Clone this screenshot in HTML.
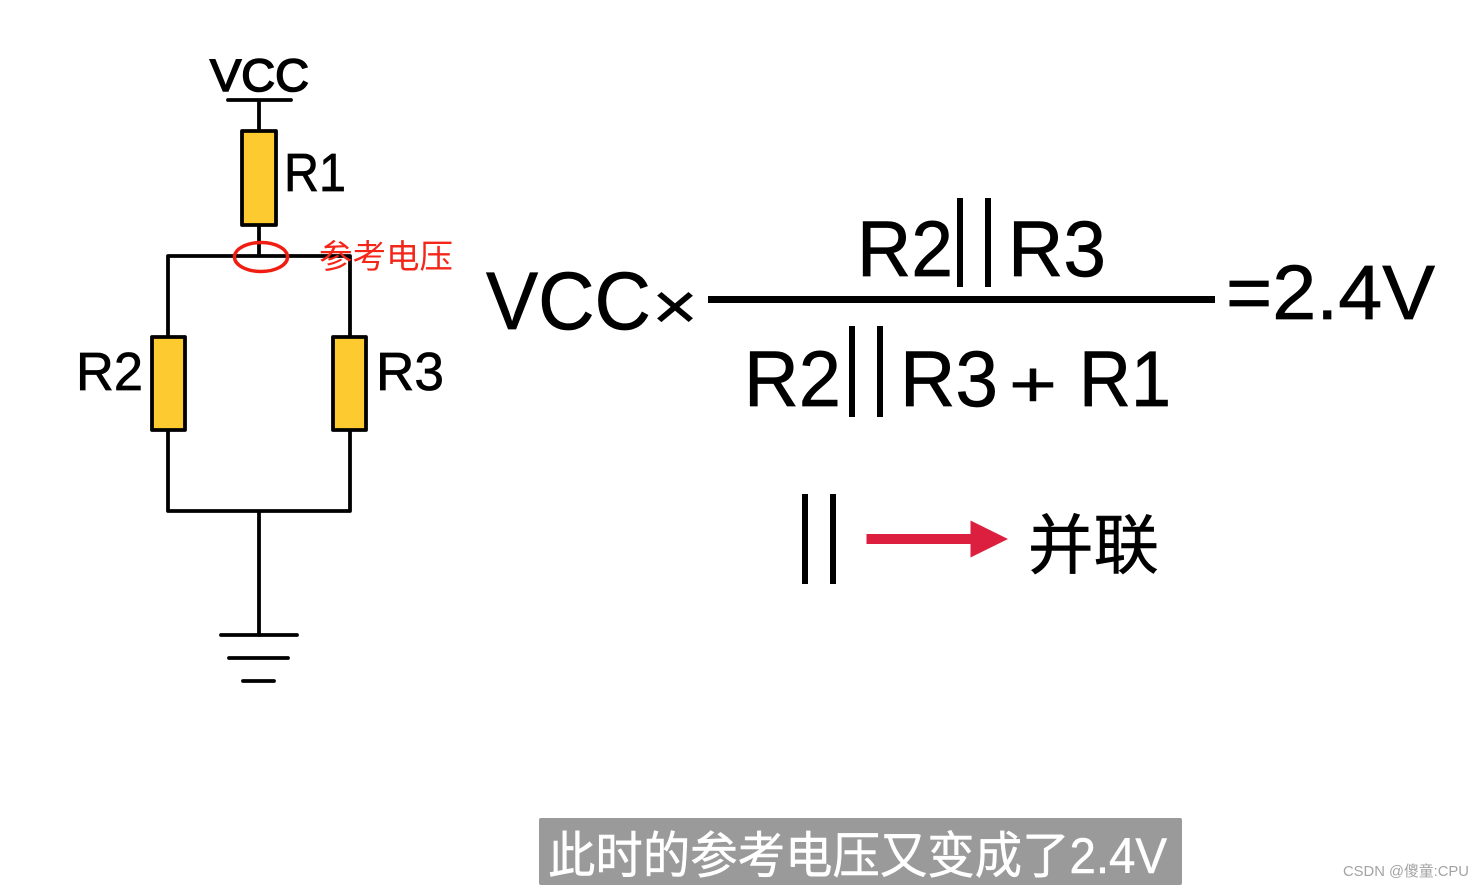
<!DOCTYPE html>
<html><head><meta charset="utf-8"><style>
html,body{margin:0;padding:0;background:#fff;width:1483px;height:888px;overflow:hidden}
svg{display:block}
text{font-family:"Liberation Sans","Noto Sans CJK SC",sans-serif}
</style></head><body>
<svg width="1483" height="888" viewBox="0 0 1483 888" xmlns="http://www.w3.org/2000/svg">
<rect width="1483" height="888" fill="#fff"/>
<g stroke="#000" stroke-width="3.800" fill="none" stroke-linecap="round" stroke-linejoin="round">
<path d="M228 100H291M259 100V131M259 225V256M168 256H350M168 256V337M350 256V337M168 430V511H350V430M259 511V635"/>
<path d="M221 635H297M229 658H288M243 681H274"/>
<rect x="242" y="131" width="34" height="94" fill="#fdca30"/>
<rect x="152" y="337" width="33" height="93" fill="#fdca30"/>
<rect x="333" y="337" width="33" height="93" fill="#fdca30"/>
</g>
<ellipse cx="261" cy="257" rx="26.500" ry="14.500" fill="none" stroke="#f01e12" stroke-width="3.500"/>
<g fill="#000" stroke="#000" stroke-width="0.7">
<text x="210" y="91" font-size="45" textLength="99" lengthAdjust="spacingAndGlyphs" stroke-width="1.600">VCC</text>
<text x="284" y="191" font-size="54" textLength="62" lengthAdjust="spacingAndGlyphs">R1</text>
<text x="76" y="390" font-size="54" textLength="67" lengthAdjust="spacingAndGlyphs">R2</text>
<text x="376" y="390" font-size="54" textLength="68" lengthAdjust="spacingAndGlyphs">R3</text>
<text x="486" y="329" font-size="82" textLength="165" lengthAdjust="spacingAndGlyphs">VCC</text>
<text x="652" y="329" font-size="66" textLength="46" lengthAdjust="spacingAndGlyphs" stroke-width="0.500">×</text>
<text x="857" y="276" font-size="79" textLength="96" lengthAdjust="spacingAndGlyphs">R2</text>
<text x="1008" y="276" font-size="79" textLength="98" lengthAdjust="spacingAndGlyphs">R3</text>
<text x="1226" y="319" font-size="77" textLength="209" lengthAdjust="spacingAndGlyphs">=2.4V</text>
<text x="744" y="406" font-size="79" textLength="97" lengthAdjust="spacingAndGlyphs">R2</text>
<text x="900" y="406" font-size="79" textLength="98" lengthAdjust="spacingAndGlyphs">R3</text>
<text x="1009" y="407" font-size="66" textLength="48" lengthAdjust="spacingAndGlyphs" stroke-width="0.500">+</text>
<text x="1079" y="406" font-size="79" textLength="92" lengthAdjust="spacingAndGlyphs">R1</text>
<rect x="708" y="296" width="507" height="7" stroke="none"/>
<rect x="957" y="198" width="6" height="89" stroke="none"/>
<rect x="985" y="198" width="6" height="89" stroke="none"/>
<rect x="849" y="326" width="6" height="91" stroke="none"/>
<rect x="877" y="326" width="6" height="91" stroke="none"/>
<rect x="802" y="494" width="6" height="90" stroke="none"/>
<rect x="830" y="494" width="6" height="90" stroke="none"/>
<text x="1028" y="568" font-size="65" textLength="131" lengthAdjust="spacingAndGlyphs" stroke="#000" stroke-width="0.600">并联</text>
</g>
<path d="M866.500 534H970.500V520.500L1008 539L970.500 557.500V544H866.500Z" fill="#dd1f3f"/>
<text x="319" y="268" font-size="33" fill="#f4261a" textLength="134" lengthAdjust="spacingAndGlyphs">参考电压</text>
<rect x="539" y="818" width="643" height="67" rx="2" fill="#9a9a9a"/>
<text x="548" y="873" font-size="50" fill="#fff" stroke="#fff" stroke-width="0.500" textLength="619" lengthAdjust="spacingAndGlyphs">此时的参考电压又变成了2.4V</text>
<text x="1343" y="876" font-size="15" fill="#a3a3a3" textLength="126" lengthAdjust="spacingAndGlyphs">CSDN @傻童:CPU</text>
</svg>
</body></html>
